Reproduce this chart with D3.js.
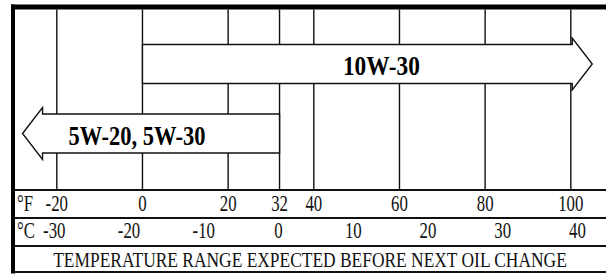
<!DOCTYPE html>
<html><head><meta charset="utf-8">
<script src="https://cdn.jsdelivr.net/npm/d3@7"></script>
<style>body{margin:0;background:#fff}svg{display:block}</style>
</head><body><svg id="c" width="606" height="274"></svg>
<script>
// ---- data ----
const fahrenheitTicks = [-20, 0, 20, 32, 40, 60, 80, 100];
const celsiusTicks = [-30, -20, -10, 0, 10, 20, 30, 40];
const oilGrades = ["10W-30", "5W-20, 5W-30"];
const gradeFromF = [0, 32];     // °F where the arrow tail sits
const gradeToF = [105, -28];    // °F where the arrow tip points
const unitLabels = ["°F", "°C"];
const caption = "TEMPERATURE RANGE EXPECTED BEFORE NEXT OIL CHANGE";

// ---- layout ----
const svg = d3.select("#c");
const W = 606;
const leftX = 15, topY = 9.5, gridBottom = 190;
const rowLines = [190, 218, 246, 272];
const xF = d3.scaleLinear().domain([-20, 100]).range([56.8, 570.8]);
const xC = d3.scaleLinear().domain([-30, 40]).range([54.3, 577.5]);
const yGrade = d3.scalePoint().domain(oilGrades).range([64, 133.5]);

const serif = "Liberation Serif, Times New Roman, serif";
const ink = "#111";

// squeeze a text horizontally to a given width (the reference type is condensed)
function fitWidth(sel, x, y, width) {
  sel.each(function (d, i) {
    const w = this.getComputedTextLength() || 1;
    const k = (typeof width === "function" ? width(d, i) : width) / w;
    const px = typeof x === "function" ? x(d, i) : x;
    const py = typeof y === "function" ? y(d, i) : y;
    d3.select(this).attr("transform", `translate(${px},${py}) scale(${k},1)`);
  });
}

// gridlines
svg.append("g").selectAll("line").data(fahrenheitTicks).join("line")
  .attr("x1", d => xF(d)).attr("x2", d => xF(d))
  .attr("y1", topY).attr("y2", gridBottom)
  .attr("stroke", ink).attr("stroke-width", 1.4);

// row separator lines
svg.append("g").selectAll("line").data(rowLines).join("line")
  .attr("x1", leftX).attr("x2", W)
  .attr("y1", d => d).attr("y2", d => d)
  .attr("stroke", ink).attr("stroke-width", 2);

// thick frame (top + left)
svg.append("line").attr("x1", 11).attr("x2", W).attr("y1", 7).attr("y2", 7)
  .attr("stroke", "#000").attr("stroke-width", 5);
svg.append("line").attr("x1", 13).attr("x2", 13).attr("y1", 4.5).attr("y2", 273.5)
  .attr("stroke", "#000").attr("stroke-width", 4);

// arrows
const arrows = oilGrades.map((g, i) => ({label: g, from: gradeFromF[i], to: gradeToF[i]}));
const bodyH = 19.5, headH = 26, headLen = 20;
const ag = svg.append("g").selectAll("g").data(arrows).join("g");
ag.append("path")
  .attr("d", d => {
    const cy = yGrade(d.label);
    const x0 = xF(d.from), xt = xF(d.to);
    const dir = Math.sign(d.to - d.from);
    const xn = xt - dir * headLen;
    return `M${x0},${cy - bodyH}L${xn},${cy - bodyH}L${xn},${cy - headH}L${xt},${cy}` +
           `L${xn},${cy + headH}L${xn},${cy + bodyH}L${x0},${cy + bodyH}Z`;
  })
  .attr("fill", "#fff").attr("stroke", ink).attr("stroke-width", 1.4)
  .attr("stroke-linejoin", "miter");
ag.append("text")
  .attr("text-anchor", "middle")
  .attr("font-family", serif).attr("font-weight", "bold").attr("font-size", 28)
  .attr("fill", "#000")
  .text(d => d.label)
  .call(fitWidth,
        d => (xF(d.from) + xF(d.to)) / 2 + Math.sign(d.to - d.from) * 14,
        d => yGrade(d.label) + 11,
        d => d.label.length > 7 ? 137 : 77);

// tick label rows
const sx = 0.73, fs = 23;
svg.append("g").selectAll("text").data(fahrenheitTicks).join("text")
  .attr("transform", d => `translate(${xF(d)},210.5) scale(${sx},1)`)
  .attr("text-anchor", "middle").attr("font-family", serif).attr("font-size", fs)
  .attr("fill", ink).text(d => d);
svg.append("g").selectAll("text").data(celsiusTicks).join("text")
  .attr("transform", d => `translate(${xC(d)},237.5) scale(${sx},1)`)
  .attr("text-anchor", "middle").attr("font-family", serif).attr("font-size", fs)
  .attr("fill", ink).text(d => d);
svg.append("g").selectAll("text").data(unitLabels).join("text")
  .attr("transform", (d, i) => `translate(17,${i ? 237.5 : 210.5}) scale(${sx},1)`)
  .attr("font-family", serif).attr("font-size", fs).attr("fill", ink).text(d => d);

// caption
svg.append("text")
  .attr("text-anchor", "middle").attr("font-family", serif).attr("font-size", 22)
  .attr("fill", ink).text(caption)
  .call(fitWidth, 310, 266.5, 514);
</script></body></html>
